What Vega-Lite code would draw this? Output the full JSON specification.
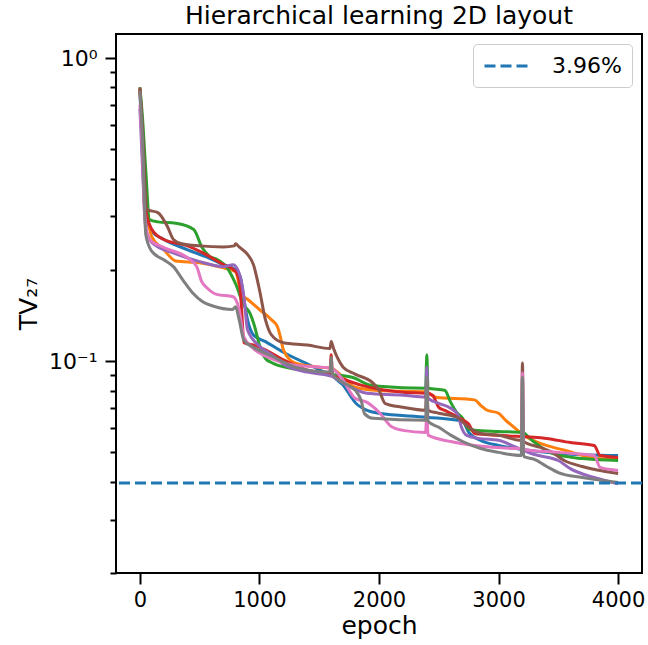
{
  "$schema": "https://vega.github.io/schema/vega-lite/v6.json",
  "width": 526,
  "height": 539,
  "autosize": {"type": "none"},
  "padding": {"left": 116, "top": 34, "right": 6, "bottom": 72},
  "title": {"text": "Hierarchical learning 2D layout", "fontSize": 25, "fontWeight": "normal", "font": "DejaVu Sans", "color": "black", "offset": 5},
  "config": {
    "font": "DejaVu Sans",
    "view": {"stroke": "black", "strokeWidth": 2},
    "axis": {"grid": false, "domain": false, "tickColor": "black", "tickWidth": 2, "labelColor": "black", "titleColor": "black", "labelFont": "DejaVu Sans", "titleFont": "DejaVu Sans", "labelFontSize": 21, "titleFontSize": 25, "titleFontWeight": "normal", "labelFlush": false, "labelOverlap": false, "labelBound": false}
  },
  "datasets": {
    "runs": [
      {"run": 0, "epoch": 0, "tv": 0.78}, {"run": 0, "epoch": 20, "tv": 0.5}, {"run": 0, "epoch": 45, "tv": 0.3}, {"run": 0, "epoch": 100, "tv": 0.268}, {"run": 0, "epoch": 200, "tv": 0.252}, {"run": 0, "epoch": 400, "tv": 0.233}, {"run": 0, "epoch": 550, "tv": 0.221}, {"run": 0, "epoch": 700, "tv": 0.208}, {"run": 0, "epoch": 800, "tv": 0.2}, {"run": 0, "epoch": 840, "tv": 0.19}, {"run": 0, "epoch": 870, "tv": 0.16}, {"run": 0, "epoch": 900, "tv": 0.137}, {"run": 0, "epoch": 950, "tv": 0.122}, {"run": 0, "epoch": 1050, "tv": 0.116}, {"run": 0, "epoch": 1200, "tv": 0.107}, {"run": 0, "epoch": 1400, "tv": 0.098}, {"run": 0, "epoch": 1590, "tv": 0.0913}, {"run": 0, "epoch": 1600, "tv": 0.095}, {"run": 0, "epoch": 1610, "tv": 0.0906}, {"run": 0, "epoch": 1700, "tv": 0.0833}, {"run": 0, "epoch": 1750, "tv": 0.078}, {"run": 0, "epoch": 1800, "tv": 0.0731}, {"run": 0, "epoch": 1900, "tv": 0.0688}, {"run": 0, "epoch": 2000, "tv": 0.0673}, {"run": 0, "epoch": 2400, "tv": 0.0653}, {"run": 0, "epoch": 2700, "tv": 0.0633}, {"run": 0, "epoch": 2750, "tv": 0.0582}, {"run": 0, "epoch": 2850, "tv": 0.0548}, {"run": 0, "epoch": 3000, "tv": 0.0527}, {"run": 0, "epoch": 3200, "tv": 0.0511}, {"run": 0, "epoch": 3500, "tv": 0.0496}, {"run": 0, "epoch": 4000, "tv": 0.0488},

      {"run": 1, "epoch": 0, "tv": 0.78}, {"run": 1, "epoch": 20, "tv": 0.6}, {"run": 1, "epoch": 50, "tv": 0.35}, {"run": 1, "epoch": 100, "tv": 0.257}, {"run": 1, "epoch": 200, "tv": 0.233}, {"run": 1, "epoch": 300, "tv": 0.214}, {"run": 1, "epoch": 500, "tv": 0.211}, {"run": 1, "epoch": 700, "tv": 0.203}, {"run": 1, "epoch": 800, "tv": 0.197}, {"run": 1, "epoch": 850, "tv": 0.166}, {"run": 1, "epoch": 900, "tv": 0.16}, {"run": 1, "epoch": 1000, "tv": 0.148}, {"run": 1, "epoch": 1100, "tv": 0.137}, {"run": 1, "epoch": 1150, "tv": 0.13}, {"run": 1, "epoch": 1180, "tv": 0.118}, {"run": 1, "epoch": 1200, "tv": 0.109}, {"run": 1, "epoch": 1300, "tv": 0.0985}, {"run": 1, "epoch": 1500, "tv": 0.0955}, {"run": 1, "epoch": 1600, "tv": 0.0948}, {"run": 1, "epoch": 1700, "tv": 0.0885}, {"run": 1, "epoch": 1800, "tv": 0.082}, {"run": 1, "epoch": 2000, "tv": 0.08}, {"run": 1, "epoch": 2400, "tv": 0.079}, {"run": 1, "epoch": 2475, "tv": 0.076}, {"run": 1, "epoch": 2800, "tv": 0.0745}, {"run": 1, "epoch": 2850, "tv": 0.0715}, {"run": 1, "epoch": 2900, "tv": 0.069}, {"run": 1, "epoch": 3000, "tv": 0.0673}, {"run": 1, "epoch": 3060, "tv": 0.0638}, {"run": 1, "epoch": 3140, "tv": 0.06}, {"run": 1, "epoch": 3190, "tv": 0.0577}, {"run": 1, "epoch": 3330, "tv": 0.0539}, {"run": 1, "epoch": 3560, "tv": 0.0507}, {"run": 1, "epoch": 3830, "tv": 0.0477}, {"run": 1, "epoch": 4000, "tv": 0.0474},

      {"run": 2, "epoch": 0, "tv": 0.8}, {"run": 2, "epoch": 20, "tv": 0.65}, {"run": 2, "epoch": 50, "tv": 0.42}, {"run": 2, "epoch": 80, "tv": 0.293}, {"run": 2, "epoch": 150, "tv": 0.288}, {"run": 2, "epoch": 300, "tv": 0.285}, {"run": 2, "epoch": 450, "tv": 0.272}, {"run": 2, "epoch": 520, "tv": 0.237}, {"run": 2, "epoch": 580, "tv": 0.222}, {"run": 2, "epoch": 650, "tv": 0.216}, {"run": 2, "epoch": 730, "tv": 0.203}, {"run": 2, "epoch": 800, "tv": 0.18}, {"run": 2, "epoch": 870, "tv": 0.153}, {"run": 2, "epoch": 920, "tv": 0.144}, {"run": 2, "epoch": 960, "tv": 0.13}, {"run": 2, "epoch": 1000, "tv": 0.113}, {"run": 2, "epoch": 1050, "tv": 0.102}, {"run": 2, "epoch": 1100, "tv": 0.099}, {"run": 2, "epoch": 1300, "tv": 0.0941}, {"run": 2, "epoch": 1600, "tv": 0.0906}, {"run": 2, "epoch": 1800, "tv": 0.0878}, {"run": 2, "epoch": 1900, "tv": 0.0839}, {"run": 2, "epoch": 2000, "tv": 0.0826}, {"run": 2, "epoch": 2390, "tv": 0.0814}, {"run": 2, "epoch": 2400, "tv": 0.105}, {"run": 2, "epoch": 2410, "tv": 0.0814}, {"run": 2, "epoch": 2550, "tv": 0.0802}, {"run": 2, "epoch": 2600, "tv": 0.0731}, {"run": 2, "epoch": 2650, "tv": 0.0678}, {"run": 2, "epoch": 2700, "tv": 0.0648}, {"run": 2, "epoch": 2750, "tv": 0.0596}, {"run": 2, "epoch": 2800, "tv": 0.0591}, {"run": 2, "epoch": 3000, "tv": 0.0586}, {"run": 2, "epoch": 3200, "tv": 0.0582}, {"run": 2, "epoch": 3280, "tv": 0.0548}, {"run": 2, "epoch": 3450, "tv": 0.0496}, {"run": 2, "epoch": 3700, "tv": 0.0477}, {"run": 2, "epoch": 4000, "tv": 0.047},

      {"run": 3, "epoch": 0, "tv": 0.79}, {"run": 3, "epoch": 20, "tv": 0.55}, {"run": 3, "epoch": 45, "tv": 0.32}, {"run": 3, "epoch": 100, "tv": 0.272}, {"run": 3, "epoch": 200, "tv": 0.252}, {"run": 3, "epoch": 400, "tv": 0.24}, {"run": 3, "epoch": 550, "tv": 0.225}, {"run": 3, "epoch": 700, "tv": 0.208}, {"run": 3, "epoch": 800, "tv": 0.198}, {"run": 3, "epoch": 830, "tv": 0.185}, {"run": 3, "epoch": 850, "tv": 0.15}, {"run": 3, "epoch": 870, "tv": 0.115}, {"run": 3, "epoch": 950, "tv": 0.113}, {"run": 3, "epoch": 1050, "tv": 0.109}, {"run": 3, "epoch": 1200, "tv": 0.101}, {"run": 3, "epoch": 1400, "tv": 0.0934}, {"run": 3, "epoch": 1590, "tv": 0.0913}, {"run": 3, "epoch": 1600, "tv": 0.105}, {"run": 3, "epoch": 1610, "tv": 0.0899}, {"run": 3, "epoch": 1700, "tv": 0.0872}, {"run": 3, "epoch": 1850, "tv": 0.0833}, {"run": 3, "epoch": 2000, "tv": 0.0808}, {"run": 3, "epoch": 2200, "tv": 0.079}, {"run": 3, "epoch": 2400, "tv": 0.0783}, {"run": 3, "epoch": 2450, "tv": 0.077}, {"run": 3, "epoch": 2500, "tv": 0.0704}, {"run": 3, "epoch": 2550, "tv": 0.0688}, {"run": 3, "epoch": 2700, "tv": 0.064}, {"run": 3, "epoch": 2750, "tv": 0.062}, {"run": 3, "epoch": 2800, "tv": 0.0577}, {"run": 3, "epoch": 3000, "tv": 0.0569}, {"run": 3, "epoch": 3400, "tv": 0.0556}, {"run": 3, "epoch": 3600, "tv": 0.0539}, {"run": 3, "epoch": 3800, "tv": 0.0527}, {"run": 3, "epoch": 3850, "tv": 0.0488}, {"run": 3, "epoch": 4000, "tv": 0.0481},

      {"run": 4, "epoch": 0, "tv": 0.68}, {"run": 4, "epoch": 20, "tv": 0.45}, {"run": 4, "epoch": 50, "tv": 0.272}, {"run": 4, "epoch": 100, "tv": 0.246}, {"run": 4, "epoch": 300, "tv": 0.226}, {"run": 4, "epoch": 500, "tv": 0.213}, {"run": 4, "epoch": 700, "tv": 0.205}, {"run": 4, "epoch": 780, "tv": 0.208}, {"run": 4, "epoch": 830, "tv": 0.195}, {"run": 4, "epoch": 870, "tv": 0.163}, {"run": 4, "epoch": 900, "tv": 0.127}, {"run": 4, "epoch": 1000, "tv": 0.112}, {"run": 4, "epoch": 1100, "tv": 0.105}, {"run": 4, "epoch": 1200, "tv": 0.0977}, {"run": 4, "epoch": 1400, "tv": 0.092}, {"run": 4, "epoch": 1600, "tv": 0.0892}, {"run": 4, "epoch": 1700, "tv": 0.0846}, {"run": 4, "epoch": 1900, "tv": 0.0783}, {"run": 4, "epoch": 2200, "tv": 0.0772}, {"run": 4, "epoch": 2390, "tv": 0.076}, {"run": 4, "epoch": 2400, "tv": 0.0955}, {"run": 4, "epoch": 2410, "tv": 0.0755}, {"run": 4, "epoch": 2500, "tv": 0.0726}, {"run": 4, "epoch": 2600, "tv": 0.0699}, {"run": 4, "epoch": 2660, "tv": 0.0665}, {"run": 4, "epoch": 2690, "tv": 0.0605}, {"run": 4, "epoch": 2730, "tv": 0.057}, {"run": 4, "epoch": 2830, "tv": 0.0556}, {"run": 4, "epoch": 3000, "tv": 0.0548}, {"run": 4, "epoch": 3150, "tv": 0.0519}, {"run": 4, "epoch": 3300, "tv": 0.0492}, {"run": 4, "epoch": 3500, "tv": 0.047}, {"run": 4, "epoch": 3600, "tv": 0.0442}, {"run": 4, "epoch": 3800, "tv": 0.0413}, {"run": 4, "epoch": 4000, "tv": 0.0394},

      {"run": 5, "epoch": 0, "tv": 0.8}, {"run": 5, "epoch": 20, "tv": 0.6}, {"run": 5, "epoch": 60, "tv": 0.316}, {"run": 5, "epoch": 150, "tv": 0.309}, {"run": 5, "epoch": 230, "tv": 0.278}, {"run": 5, "epoch": 280, "tv": 0.252}, {"run": 5, "epoch": 350, "tv": 0.244}, {"run": 5, "epoch": 500, "tv": 0.24}, {"run": 5, "epoch": 700, "tv": 0.238}, {"run": 5, "epoch": 790, "tv": 0.24}, {"run": 5, "epoch": 800, "tv": 0.244}, {"run": 5, "epoch": 830, "tv": 0.238}, {"run": 5, "epoch": 900, "tv": 0.225}, {"run": 5, "epoch": 950, "tv": 0.208}, {"run": 5, "epoch": 1000, "tv": 0.172}, {"run": 5, "epoch": 1050, "tv": 0.137}, {"run": 5, "epoch": 1100, "tv": 0.122}, {"run": 5, "epoch": 1200, "tv": 0.115}, {"run": 5, "epoch": 1400, "tv": 0.113}, {"run": 5, "epoch": 1590, "tv": 0.11}, {"run": 5, "epoch": 1600, "tv": 0.116}, {"run": 5, "epoch": 1620, "tv": 0.11}, {"run": 5, "epoch": 1650, "tv": 0.103}, {"run": 5, "epoch": 1700, "tv": 0.0955}, {"run": 5, "epoch": 1800, "tv": 0.0906}, {"run": 5, "epoch": 1950, "tv": 0.0846}, {"run": 5, "epoch": 2000, "tv": 0.0802}, {"run": 5, "epoch": 2050, "tv": 0.0726}, {"run": 5, "epoch": 2200, "tv": 0.0704}, {"run": 5, "epoch": 2390, "tv": 0.0688}, {"run": 5, "epoch": 2400, "tv": 0.0865}, {"run": 5, "epoch": 2410, "tv": 0.0688}, {"run": 5, "epoch": 2500, "tv": 0.0673}, {"run": 5, "epoch": 2650, "tv": 0.0653}, {"run": 5, "epoch": 2750, "tv": 0.0605}, {"run": 5, "epoch": 2850, "tv": 0.0577}, {"run": 5, "epoch": 3000, "tv": 0.0569}, {"run": 5, "epoch": 3190, "tv": 0.0548}, {"run": 5, "epoch": 3200, "tv": 0.0985}, {"run": 5, "epoch": 3210, "tv": 0.0543}, {"run": 5, "epoch": 3350, "tv": 0.0519}, {"run": 5, "epoch": 3450, "tv": 0.05}, {"run": 5, "epoch": 3550, "tv": 0.047}, {"run": 5, "epoch": 3700, "tv": 0.0449}, {"run": 5, "epoch": 4000, "tv": 0.0426},

      {"run": 6, "epoch": 0, "tv": 0.7}, {"run": 6, "epoch": 20, "tv": 0.5}, {"run": 6, "epoch": 40, "tv": 0.3}, {"run": 6, "epoch": 80, "tv": 0.252}, {"run": 6, "epoch": 200, "tv": 0.237}, {"run": 6, "epoch": 400, "tv": 0.219}, {"run": 6, "epoch": 475, "tv": 0.205}, {"run": 6, "epoch": 517, "tv": 0.183}, {"run": 6, "epoch": 558, "tv": 0.175}, {"run": 6, "epoch": 642, "tv": 0.166}, {"run": 6, "epoch": 780, "tv": 0.163}, {"run": 6, "epoch": 830, "tv": 0.148}, {"run": 6, "epoch": 870, "tv": 0.12}, {"run": 6, "epoch": 950, "tv": 0.11}, {"run": 6, "epoch": 1100, "tv": 0.102}, {"run": 6, "epoch": 1300, "tv": 0.097}, {"run": 6, "epoch": 1600, "tv": 0.0948}, {"run": 6, "epoch": 1700, "tv": 0.0865}, {"run": 6, "epoch": 1800, "tv": 0.0754}, {"run": 6, "epoch": 1900, "tv": 0.0731}, {"run": 6, "epoch": 2000, "tv": 0.0678}, {"run": 6, "epoch": 2100, "tv": 0.061}, {"run": 6, "epoch": 2200, "tv": 0.0591}, {"run": 6, "epoch": 2390, "tv": 0.0582}, {"run": 6, "epoch": 2400, "tv": 0.0688}, {"run": 6, "epoch": 2410, "tv": 0.057}, {"run": 6, "epoch": 2600, "tv": 0.0543}, {"run": 6, "epoch": 2800, "tv": 0.0527}, {"run": 6, "epoch": 3190, "tv": 0.0515}, {"run": 6, "epoch": 3200, "tv": 0.0913}, {"run": 6, "epoch": 3210, "tv": 0.0511}, {"run": 6, "epoch": 3500, "tv": 0.05}, {"run": 6, "epoch": 3800, "tv": 0.0488}, {"run": 6, "epoch": 3850, "tv": 0.0446}, {"run": 6, "epoch": 4000, "tv": 0.0436},

      {"run": 7, "epoch": 0, "tv": 0.78}, {"run": 7, "epoch": 20, "tv": 0.55}, {"run": 7, "epoch": 50, "tv": 0.26}, {"run": 7, "epoch": 100, "tv": 0.23}, {"run": 7, "epoch": 200, "tv": 0.216}, {"run": 7, "epoch": 280, "tv": 0.205}, {"run": 7, "epoch": 360, "tv": 0.185}, {"run": 7, "epoch": 440, "tv": 0.168}, {"run": 7, "epoch": 525, "tv": 0.157}, {"run": 7, "epoch": 610, "tv": 0.152}, {"run": 7, "epoch": 775, "tv": 0.148}, {"run": 7, "epoch": 800, "tv": 0.151}, {"run": 7, "epoch": 830, "tv": 0.137}, {"run": 7, "epoch": 870, "tv": 0.117}, {"run": 7, "epoch": 950, "tv": 0.111}, {"run": 7, "epoch": 1100, "tv": 0.104}, {"run": 7, "epoch": 1300, "tv": 0.0955}, {"run": 7, "epoch": 1590, "tv": 0.092}, {"run": 7, "epoch": 1600, "tv": 0.103}, {"run": 7, "epoch": 1610, "tv": 0.0906}, {"run": 7, "epoch": 1700, "tv": 0.085}, {"run": 7, "epoch": 1800, "tv": 0.0802}, {"run": 7, "epoch": 1850, "tv": 0.0743}, {"run": 7, "epoch": 1880, "tv": 0.067}, {"run": 7, "epoch": 1950, "tv": 0.0648}, {"run": 7, "epoch": 2390, "tv": 0.0638}, {"run": 7, "epoch": 2400, "tv": 0.0885}, {"run": 7, "epoch": 2410, "tv": 0.0633}, {"run": 7, "epoch": 2500, "tv": 0.0605}, {"run": 7, "epoch": 2600, "tv": 0.057}, {"run": 7, "epoch": 2700, "tv": 0.0543}, {"run": 7, "epoch": 2850, "tv": 0.0515}, {"run": 7, "epoch": 3000, "tv": 0.05}, {"run": 7, "epoch": 3190, "tv": 0.0488}, {"run": 7, "epoch": 3200, "tv": 0.0885}, {"run": 7, "epoch": 3210, "tv": 0.0485}, {"run": 7, "epoch": 3300, "tv": 0.0474}, {"run": 7, "epoch": 3400, "tv": 0.045}, {"run": 7, "epoch": 3500, "tv": 0.0429}, {"run": 7, "epoch": 3700, "tv": 0.0413}, {"run": 7, "epoch": 4000, "tv": 0.0398}
    ],
    "threshold": [{"label": "3.96%", "tv": 0.0396}]
  },
  "layer": [
    {
      "data": {"name": "runs"},
      "mark": {"type": "line", "strokeWidth": 3, "clip": true, "interpolate": "monotone"},
      "encoding": {
        "x": {"field": "epoch", "type": "quantitative", "scale": {"domain": [-200, 4200], "nice": false, "zero": false},
              "axis": {"values": [0, 1000, 2000, 3000, 4000], "format": "d", "tickSize": 11, "labelPadding": 5, "title": "epoch", "titlePadding": 3}},
        "y": {"field": "tv", "type": "quantitative", "scale": {"type": "log", "domain": [0.02, 1.2], "nice": false},
              "axis": {"values": [0.02, 0.03, 0.04, 0.05, 0.06, 0.07, 0.08, 0.09, 0.1, 0.2, 0.3, 0.4, 0.5, 0.6, 0.7, 0.8, 0.9, 1],
                       "labelExpr": "datum.value === 1 ? '10⁰' : (datum.value === 0.1 ? '10⁻¹' : '')",
                       "tickSize": {"condition": {"test": "datum.value === 1 || datum.value === 0.1", "value": 11}, "value": 6},
                       "labelFontSize": 22, "labelPadding": 8, "title": "TV₂₇", "titlePadding": 7}},
        "color": {"field": "run", "type": "nominal", "legend": null,
                  "scale": {"domain": [0, 1, 2, 3, 4, 5, 6, 7], "range": ["#1f77b4", "#ff7f0e", "#2ca02c", "#d62728", "#9467bd", "#8c564b", "#e377c2", "#7f7f7f"]}},
        "order": {"field": "epoch", "type": "quantitative"}
      }
    },
    {
      "data": {"name": "threshold"},
      "mark": {"type": "rule", "color": "#1f77b4", "strokeWidth": 3},
      "encoding": {
        "y": {"field": "tv", "type": "quantitative"},
        "strokeDash": {"field": "label", "type": "nominal", "scale": {"domain": ["3.96%"], "range": [[11, 5]]},
                       "legend": {"title": null, "orient": "top-right", "offset": 10, "padding": 10, "strokeColor": "#cccccc", "fillColor": "white", "cornerRadius": 4,
                                  "symbolType": "M-1,0L3.3,0", "symbolSize": 441, "symbolStrokeWidth": 3, "symbolStrokeColor": "#1f77b4", "symbolDash": [11, 5],
                                  "labelFontSize": 22, "labelFont": "DejaVu Sans", "labelColor": "black", "labelOffset": 45}}
      }
    }
  ]
}
